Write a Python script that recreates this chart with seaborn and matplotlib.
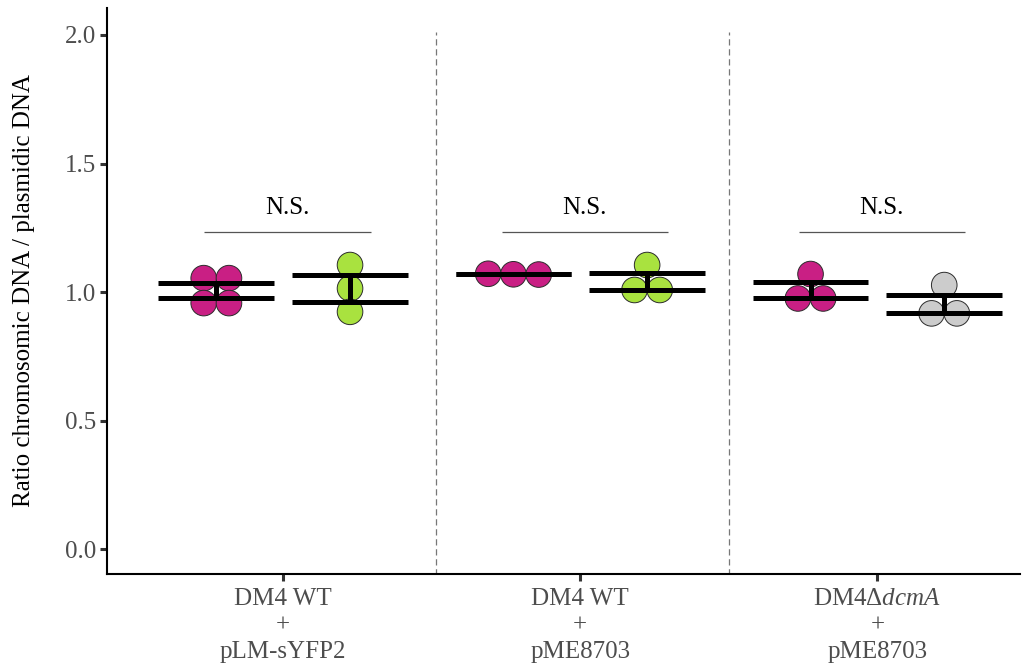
import numpy as np
import pandas as pd
import matplotlib
matplotlib.use("Agg")
import matplotlib.pyplot as plt
import seaborn as sns

# ---------------- data ----------------
group_labels = ["DM4 WT\n+\npLM-sYFP2",
                "DM4 WT\n+\npME8703",
                "DM4Δ$\\mathit{dcmA}$\n+\npME8703"]
g1_control = [1.054, 1.054, 0.957, 0.957]
g1_plasmid = [1.105, 1.014, 0.923]
g2_control = [1.071, 1.068, 1.069]
g2_plasmid = [1.105, 1.008, 1.008]
g3_control = [1.070, 0.975, 0.975]
g3_plasmid = [1.027, 0.917, 0.917]
annotations = ["N.S.", "N.S.", "N.S."]
yticks = [0.0, 0.5, 1.0, 1.5, 2.0]

series = [
    (0, "control", g1_control, "#C91F84"),
    (0, "plasmid", g1_plasmid, "#A9E23F"),
    (1, "control", g2_control, "#C91F84"),
    (1, "plasmid", g2_plasmid, "#A9E23F"),
    (2, "control", g3_control, "#C91F84"),
    (2, "plasmid", g3_plasmid, "#CCCCCC"),
]

sns.set_theme(style="ticks")
plt.rcParams["font.family"] = ["Liberation Serif", "DejaVu Serif"]
plt.rcParams["mathtext.fontset"] = "custom"
plt.rcParams["mathtext.rm"] = "Liberation Serif"
plt.rcParams["mathtext.it"] = "Liberation Serif:italic"

FS = 18
DODGE = 0.225
DOT = 0.085      # dot diameter in x data units
TOL = 0.02

rows = []
for g, kind, vals, col in series:
    center = g + (-DODGE if kind == "control" else DODGE)
    vals = np.asarray(vals)
    # dotplot-like layout: values within TOL share a row and are spread sideways
    order = np.argsort(-vals)
    bins = []
    for i in order:
        if bins and abs(vals[bins[-1][0]] - vals[i]) < TOL:
            bins[-1].append(i)
        else:
            bins.append([i])
    for b in bins:
        n = len(b)
        for k, i in enumerate(b):
            rows.append(dict(x=center + (k - (n - 1) / 2) * DOT, y=vals[i],
                             id=f"{g}-{kind}", color=col))
df = pd.DataFrame(rows)

fig = plt.figure(figsize=(10.24, 6.68), dpi=100)
ax = fig.add_axes([107 / 1024, 1 - 574 / 668, (1020 - 107) / 1024, (574 - 8) / 668])

palette = {f"{g}-{k}": c for g, k, _, c in series}
sns.scatterplot(data=df, x="x", y="y", hue="id", palette=palette, s=340,
                edgecolor="#2b2b2b", linewidth=0.7, legend=False, ax=ax, zorder=3)

# mean +- standard error
for g, kind, vals, col in series:
    center = g + (-DODGE if kind == "control" else DODGE)
    v = np.asarray(vals)
    m = v.mean()
    se = v.std(ddof=1) / np.sqrt(len(v))
    ax.hlines([m - se, m + se], center - 0.195, center + 0.195, color="black",
              lw=3.6, zorder=4)
    ax.vlines(center, m - se, m + se, color="black", lw=3.6, zorder=4)

# significance annotations
for g, txt in enumerate(annotations):
    ax.hlines(1.233, g - 0.265, g + 0.295, color="#555555", lw=0.9, zorder=2)
    ax.text(g + 0.015, 1.327, txt, ha="center", va="center", fontsize=FS,
            color="black")

# separators
for xv in [0.515, 1.5]:
    ax.vlines(xv, -0.1, 2.01, color="#777777", lw=0.9, linestyles=(0, (5, 3)),
              zorder=1)

ax.set_xlim(-0.593, 2.48)
ax.set_ylim(-0.097, 2.105)
ax.set_xticks([0, 1, 2])
ax.set_xticklabels(group_labels, linespacing=1.27)
ax.set_yticks(yticks)
ax.set_yticklabels([f"{t:.1f}" for t in yticks])
ax.tick_params(axis="both", colors="#333333", width=2.2, length=5,
               labelsize=FS, labelcolor="#4D4D4D")
ax.tick_params(axis="x", pad=5)
ax.tick_params(axis="y", pad=3)
ax.set_xlabel("")
ax.set_ylabel("Ratio chromosomic DNA / plasmidic DNA", fontsize=FS,
              color="black", labelpad=21)
for s in ["top", "right"]:
    ax.spines[s].set_visible(False)
for s in ["left", "bottom"]:
    ax.spines[s].set_color("black")
    ax.spines[s].set_linewidth(1.5)

fig.savefig("out.png", dpi=100)
